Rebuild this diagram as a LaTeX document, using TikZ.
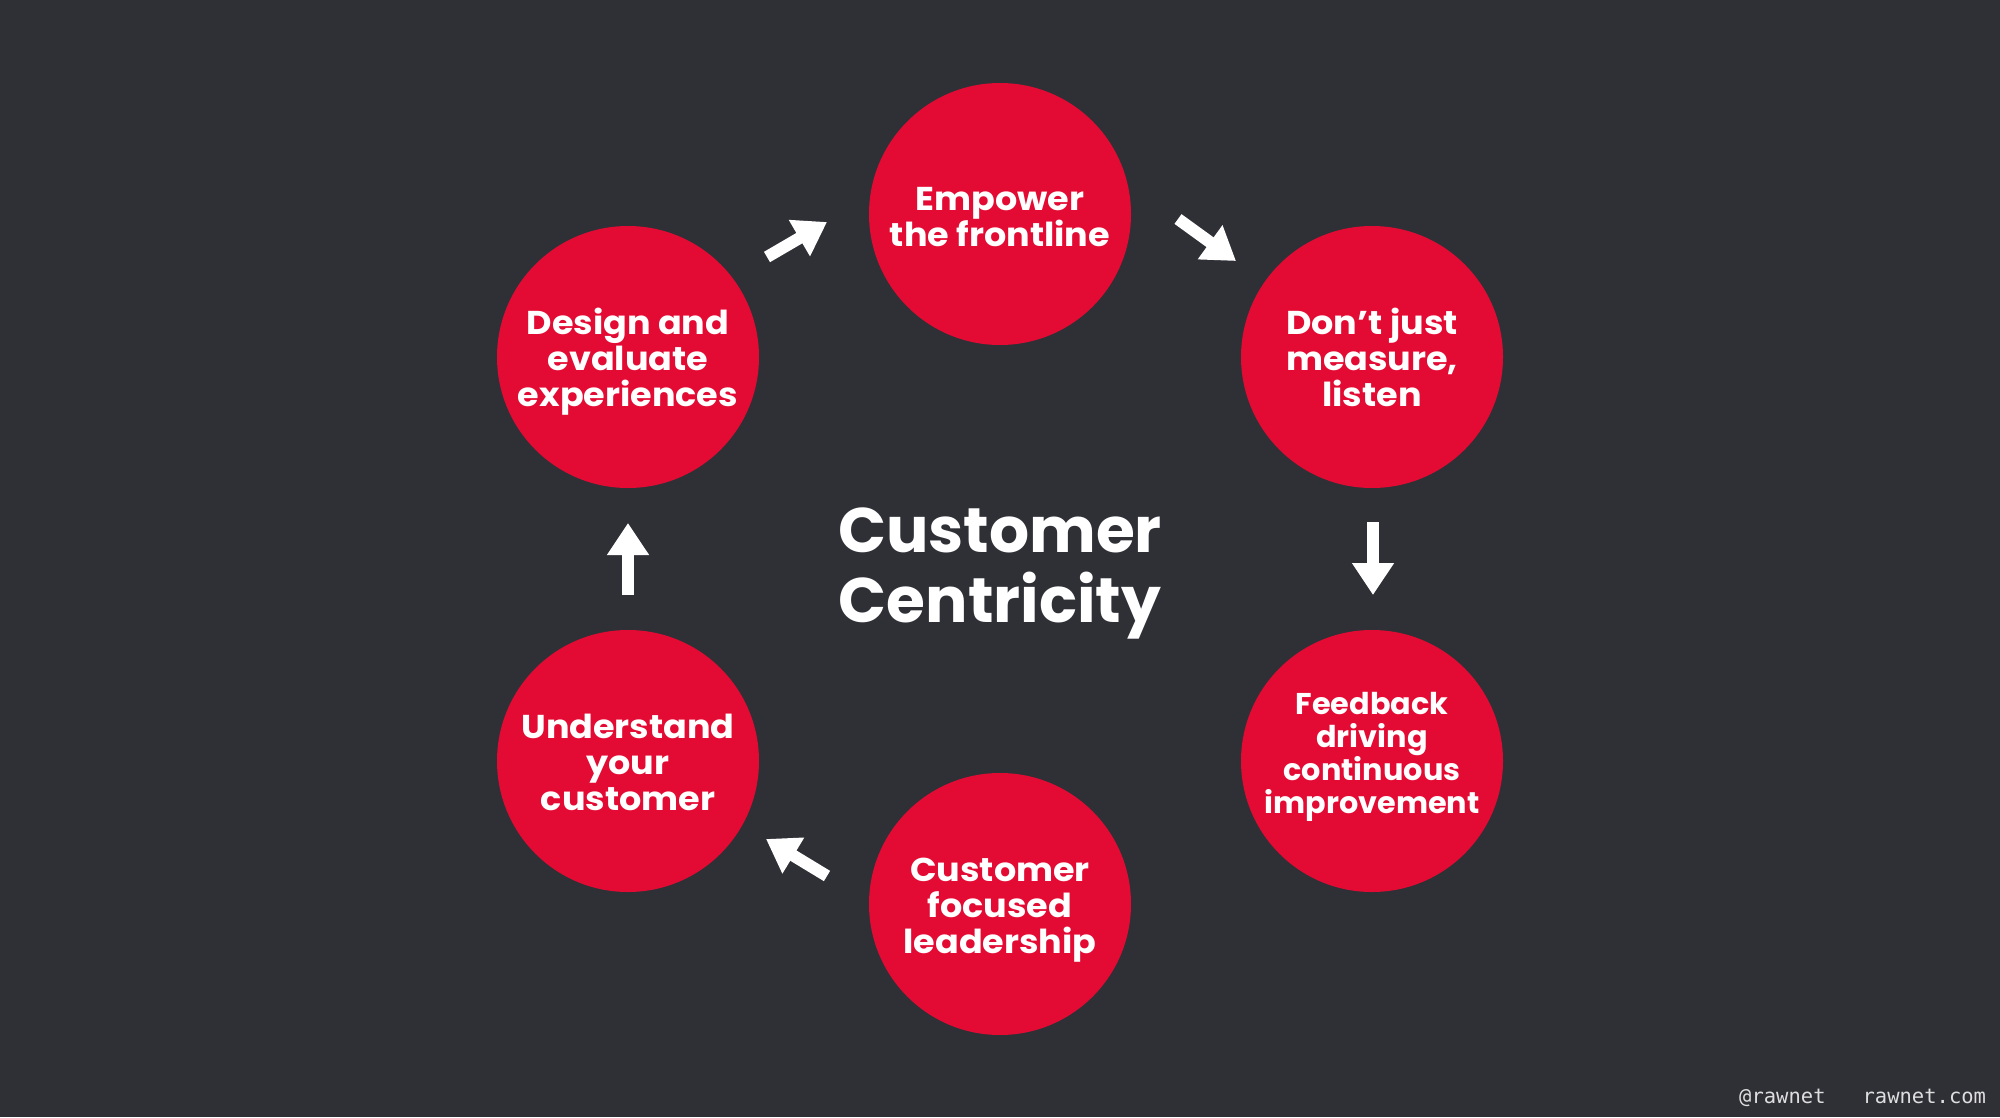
\documentclass[tikz,border=0pt]{standalone}
\usepackage{fontspec}
\setmainfont{Poppins}
\newfontfamily\circfont{Poppins}[FakeStretch=1.06]
\newfontfamily\feedfont{Poppins}[FakeStretch=1.01]
\setmonofont{DejaVu Sans Mono}
\usetikzlibrary{arrows.meta}
\definecolor{bgc}{RGB}{47,48,54}
\definecolor{redc}{RGB}{227,11,51}
\definecolor{footc}{RGB}{222,222,222}
\tikzset{
  bubble/.style={circle, fill=redc, minimum size=262pt, inner sep=0pt},
  btext/.style={text=white, align=center, font=\circfont\bfseries\fontsize{33}{36}\selectfont},
  btextsmall/.style={text=white, align=center, font=\feedfont\bfseries\fontsize{30}{33}\selectfont},
  blockarrow/.style={draw=white, line width=12pt, -{Triangle[width=40pt,length=32pt]}},
}
\begin{document}
\begin{tikzpicture}[x=1pt,y=-1pt]
\useasboundingbox (0,0) rectangle (2000,1117);
\fill[bgc] (0,0) rectangle (2000,1117);

\node[bubble] (emp) at (1000,214) {};
\node[bubble] (dont) at (1372,357) {};
\node[bubble] (feed) at (1372,761) {};
\node[bubble] (lead) at (1000,904) {};
\node[bubble] (und) at (628,761) {};
\node[bubble] (des) at (628,357) {};

\node[btext] (empT) at ([yshift=-3pt]emp) {Empower\\the frontline};
\node[btext] (dontT) at (dont) {Don’t just\\measure,\\listen};
\node[btextsmall] (feedT) at ([yshift=4pt]feed) {Feedback\\driving\\continuous\\improvement};
\node[btext] (leadT) at ([yshift=-6pt]lead) {Customer\\focused\\leadership};
\node[btext] (undT) at ([yshift=-1pt]und) {Understand\\your\\customer};
\node[btext] (desT) at ([yshift=-5pt]des) {Design and\\evaluate\\experiences};

\node[text=white, align=center, font=\bfseries\fontsize{63}{70}\selectfont] (center) at (1000,573) {Customer\\Centricity};

\coordinate (a1s) at (767,257); \coordinate (a1e) at (827,222);
\coordinate (a2s) at (1178,219); \coordinate (a2e) at (1236,261);
\coordinate (a3s) at (1373,522); \coordinate (a3e) at (1373,595);
\coordinate (a5s) at (827,876); \coordinate (a5e) at (766,839);
\coordinate (a6s) at (628,595); \coordinate (a6e) at (628,523);
\draw[blockarrow] (a1s) -- (a1e);
\draw[blockarrow] (a2s) -- (a2e);
\draw[blockarrow] (a3s) -- (a3e);
\draw[blockarrow] (a5s) -- (a5e);
\draw[blockarrow] (a6s) -- (a6e);

\node[anchor=base west, inner sep=0pt, text=footc, font=\ttfamily\fontsize{20.5}{24}\selectfont] (foot) at (1739,1103) {@rawnet\ \ \ rawnet.com};
\end{tikzpicture}
\end{document}
